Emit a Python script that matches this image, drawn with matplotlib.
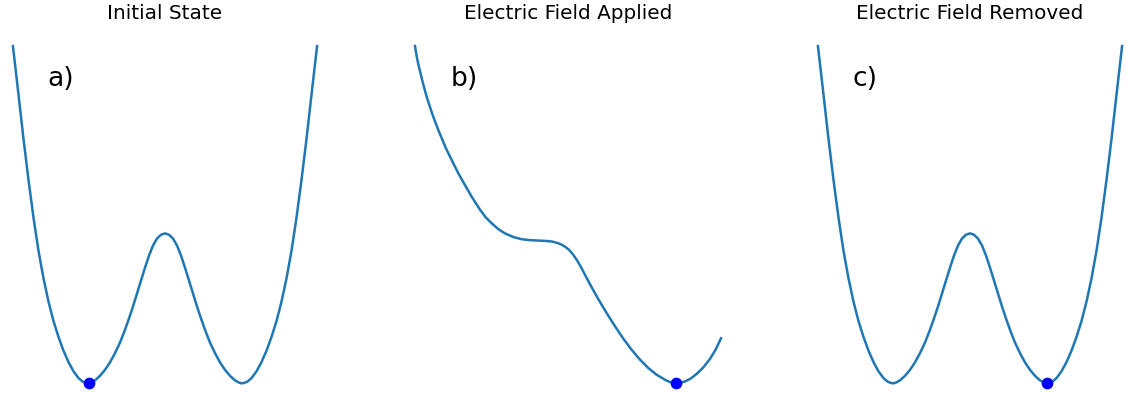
#!/usr/bin/env python3
import matplotlib
matplotlib.use("Agg")
import matplotlib.pyplot as plt

# ---------------------- 读图得到的数据 ----------------------
# 双势阱（初始态 / 撤去电场后），横坐标 x，纵坐标为能量（以阱底为 0）
WELL_X = [-1.988, -1.915, -1.850, -1.784, -1.719, -1.654, -1.588, -1.523, -1.458, -1.392,
          -1.327, -1.261, -1.196, -1.131, -1.078, -1.039, -1.000, -0.967, -0.915, -0.850,
          -0.784, -0.719, -0.654, -0.588, -0.523, -0.471, -0.418, -0.366, -0.314, -0.261,
          -0.209, -0.157, -0.105, -0.052, 0.000, 0.052, 0.105, 0.157, 0.209, 0.261,
          0.314, 0.366, 0.418, 0.471, 0.523, 0.588, 0.654, 0.719, 0.784, 0.850,
          0.915, 0.967, 1.000, 1.039, 1.078, 1.131, 1.196, 1.261, 1.327, 1.392,
          1.458, 1.523, 1.588, 1.654, 1.719, 1.784, 1.850, 1.915, 1.988]
WELL_E = [2.249, 1.925, 1.631, 1.355, 1.105, 0.885, 0.699, 0.545, 0.416, 0.309,
          0.218, 0.141, 0.080, 0.035, 0.012, 0.003, 0.000, 0.005, 0.020, 0.050,
          0.090, 0.140, 0.201, 0.272, 0.357, 0.432, 0.513, 0.599, 0.685, 0.772,
          0.852, 0.919, 0.965, 0.991, 1.000, 0.991, 0.965, 0.919, 0.852, 0.772,
          0.685, 0.599, 0.513, 0.432, 0.357, 0.272, 0.201, 0.140, 0.090, 0.050,
          0.020, 0.005, 0.000, 0.003, 0.012, 0.035, 0.080, 0.141, 0.218, 0.309,
          0.416, 0.545, 0.699, 0.885, 1.105, 1.355, 1.631, 1.925, 2.249]

# 施加电场后的倾斜势阱
TILT_X = [-2.000, -1.980, -1.959, -1.900, -1.848, -1.770, -1.695, -1.600, -1.499, -1.430,
          -1.359, -1.259, -1.150, -1.075, -0.997, -0.910, -0.824, -0.710, -0.605, -0.500,
          -0.388, -0.300, -0.213, -0.130, -0.085, -0.039, 0.015, 0.069, 0.125, 0.180,
          0.288, 0.400, 0.506, 0.615, 0.723, 0.830, 0.941, 1.050, 1.159, 1.281,
          1.345, 1.408, 1.475, 1.542, 1.610, 1.682, 1.770, 1.856, 1.930, 2.000]
TILT_E = [2.249, 2.186, 2.133, 2.010, 1.911, 1.790, 1.689, 1.572, 1.467, 1.397,
          1.333, 1.244, 1.158, 1.106, 1.067, 1.028, 1.000, 0.975, 0.961, 0.955,
          0.952, 0.950, 0.946, 0.935, 0.925, 0.911, 0.890, 0.857, 0.815, 0.765,
          0.660, 0.558, 0.468, 0.380, 0.298, 0.225, 0.158, 0.102, 0.057, 0.020,
          0.006, 0.000, 0.004, 0.015, 0.034, 0.063, 0.107, 0.163, 0.225, 0.300]

TITLES = ["Initial State", "Electric Field Applied", "Electric Field Removed"]
LABELS = ["a)", "b)", "c)"]
# 极化状态（小球位置）：左阱 / 倾斜后右阱 / 撤场后留在右阱
BALL_X = [-1.00, 1.408, 1.00]
BALL_E = [0.00, 0.00, 0.00]
# ----------------------------------------------------------

W, H, DPI = 1126, 397, 120
fig = plt.figure(figsize=(W / DPI, H / DPI), dpi=DPI)

curves = [(WELL_X, WELL_E), (TILT_X, TILT_E), (WELL_X, WELL_E)]
lefts = [-3.3, 399.7, 801.7]  # 各子图左边缘（像素）

for i in range(3):
    ax = fig.add_axes([lefts[i] / W, -3.2 / H, 336.6 / W, 371 / H])
    x, e = curves[i]
    ax.plot(x, e, color="#1f77b4", linewidth=1.5)
    ax.plot(BALL_X[i], BALL_E[i], "bo", markersize=6)
    ax.set_xlim(-2.2, 2.2)
    ax.set_title(TITLES[i], fontsize=12)
    ax.text(0.15, 0.9, LABELS[i], transform=ax.transAxes, fontsize=16, va="top")
    ax.axis("off")

fig.savefig("out.png", dpi=DPI)
